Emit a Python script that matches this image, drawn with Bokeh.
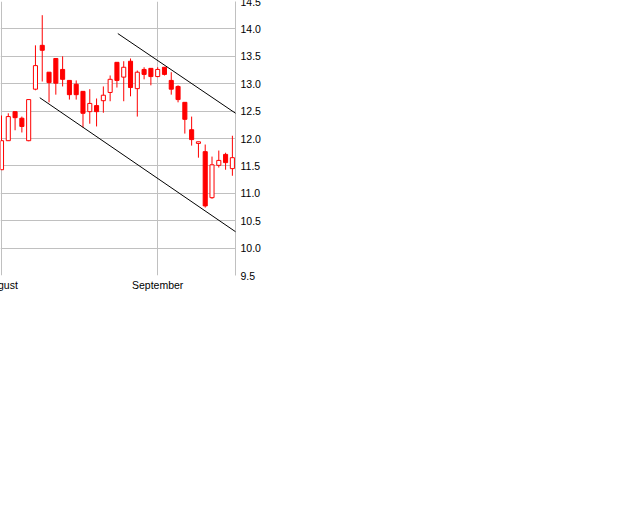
import numpy as np
from bokeh.plotting import figure
from bokeh.models import ColumnDataSource, FixedTicker, PrintfTickFormatter, Arrow
from bokeh.embed import file_html
from bokeh.resources import INLINE

# daily prices, trading-day index on the x axis
day_index = list(range(35))
open_ = [11.43, 11.96, 12.49, 12.37, 11.96, 12.90, 13.70, 13.21, 13.46, 13.26,
         13.06, 12.99, 12.86, 12.49, 12.60, 12.69, 12.84, 13.39, 13.12, 13.41,
         12.91, 13.26, 13.28, 13.13, 13.30, 13.06, 12.95, 12.66, 12.16, 11.91,
         11.76, 10.92, 11.51, 11.71, 11.45]
high = [12.42, 12.46, 12.49, 12.40, 12.71, 13.70, 14.25, 13.21, 13.46, 13.50,
        13.06, 13.06, 12.86, 12.90, 12.73, 12.95, 13.15, 13.39, 13.41, 13.46,
        13.24, 13.30, 13.28, 13.30, 13.30, 13.21, 12.97, 12.66, 12.40, 11.94,
        11.89, 11.67, 11.78, 11.74, 12.05]
low = [11.43, 11.96, 12.15, 12.11, 11.95, 12.88, 13.04, 12.66, 12.80, 12.95,
       12.71, 12.71, 12.20, 12.27, 12.22, 12.47, 12.68, 12.93, 12.68, 12.77,
       12.40, 13.08, 12.97, 13.12, 13.15, 12.80, 12.66, 12.09, 11.87, 11.65,
       10.74, 10.90, 11.47, 11.43, 11.32]
close = [11.96, 12.40, 12.38, 12.22, 12.71, 13.33, 13.61, 13.02, 13.01, 13.08,
         12.80, 12.80, 12.46, 12.64, 12.49, 12.79, 13.08, 13.06, 13.30, 12.93,
         13.21, 13.17, 13.13, 13.26, 13.17, 12.90, 12.71, 12.35, 11.98, 11.94,
         10.77, 11.52, 11.60, 11.56, 11.65]

month_ticks = [0, 23]
month_labels = ["August", "September"]
price_ticks = [9.5, 10.0, 10.5, 11.0, 11.5, 12.0, 12.5, 13.0, 13.5, 14.0, 14.5]

# trend channel (start index, start price, end index, end price)
upper_trend = (17.13, 13.915, 35.45, 12.378)
lower_trend = (5.64, 12.744, 35.83, 10.183)

GRID = "#c0c0c0"
RED = "#ff0000"

o = np.array(open_)
c = np.array(close)
up = c >= o
source = ColumnDataSource(data=dict(
    x=day_index, high=high, low=low,
    top=np.maximum(o, c), bottom=np.minimum(o, c),
    fill=np.where(up, "white", RED),
))

# the chart is a cut-out of a wider one: the canvas starts left of / above the page
p = figure(frame_width=235, frame_height=274, x_range=(-0.147, 34.46), y_range=(9.5, 14.5),
           y_axis_location="right", output_backend="svg", toolbar_location=None,
           min_border_left=30, min_border_top=10, min_border_right=0, min_border_bottom=0,
           margin=(-9, 0, 0, -30), background_fill_color="white", border_fill_color="white")
p.outline_line_color = None

p.segment(x0="x", y0="low", x1="x", y1="high", source=source, line_color=RED, line_width=1)
p.vbar(x="x", width=0.6, top="top", bottom="bottom", source=source,
       fill_color="fill", line_color=RED, line_width=1)

for x0, y0, x1, y1 in (upper_trend, lower_trend):
    p.add_layout(Arrow(end=None, x_start=x0, y_start=y0, x_end=x1, y_end=y1,
                       line_color="black", line_width=1, level="overlay"))

# axes
p.xaxis.ticker = FixedTicker(ticks=month_ticks)
p.xaxis.major_label_overrides = {t: s for t, s in zip(month_ticks, month_labels)}
p.xaxis.axis_line_color = None
p.xaxis.major_tick_in = 0
p.xaxis.major_tick_out = 0
p.xaxis.minor_tick_line_color = None
p.xaxis.major_label_standoff = 3
p.xaxis.major_label_text_font = "Liberation Sans"
p.xaxis.major_label_text_font_size = "10.5px"
p.xaxis.major_label_text_color = "black"

p.yaxis.ticker = FixedTicker(ticks=price_ticks)
p.yaxis.formatter = PrintfTickFormatter(format="%.1f")
p.yaxis.axis_line_color = GRID
p.yaxis.major_tick_in = 0
p.yaxis.major_tick_out = 0
p.yaxis.minor_tick_line_color = None
p.yaxis.major_label_standoff = 5
p.yaxis.major_label_text_font = "Liberation Sans"
p.yaxis.major_label_text_font_size = "10.5px"
p.yaxis.major_label_text_color = "black"

p.xgrid.ticker = FixedTicker(ticks=month_ticks)
p.xgrid.grid_line_color = GRID
p.ygrid.grid_line_color = GRID

open("out.html", "w").write(file_html(p, INLINE))
